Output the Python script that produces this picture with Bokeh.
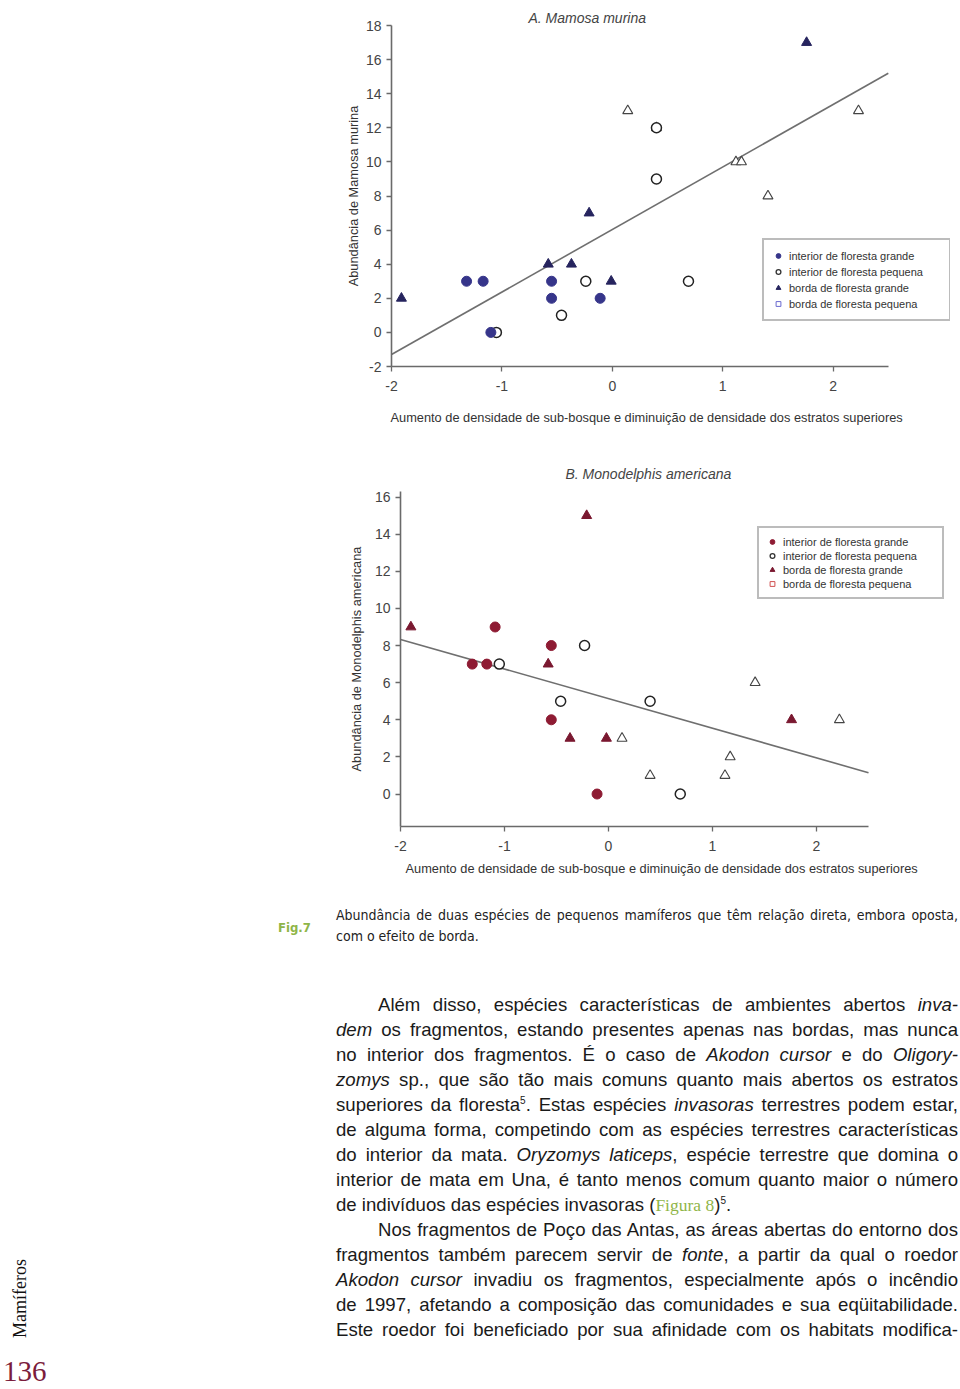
import math
from bokeh.plotting import figure
from bokeh.models import Legend, LegendItem, Div, Range1d, FixedTicker, ColumnDataSource, Title
from bokeh.layouts import column, row
from bokeh.embed import file_html
from bokeh.resources import INLINE

NAN = float("nan")

# ---------------- data: panel A (Mamosa murina) ----------------
a_int_grande_x = [-1.32, -1.17, -1.10, -0.55, -0.55, -0.11]
a_int_grande_y = [3, 3, 0, 3, 2, 2]
a_int_peq_x = [-1.05, -0.46, -0.24, 0.40, 0.40, 0.69]
a_int_peq_y = [0, 1, 3, 12, 9, 3]
a_borda_grande_x = [-1.91, -0.58, -0.37, -0.21, -0.01, 1.76]
a_borda_grande_y = [2, 4, 4, 7, 3, 17]
a_borda_peq_x = [0.14, 0.40, 1.12, 1.17, 1.41, 2.23]
a_borda_peq_y = [13, 12, 10, 10, 8, 13]
a_trend_x = [-2.0, 2.5]
a_trend_y = [-1.3, 15.2]
a_yticks = [-2, 0, 2, 4, 6, 8, 10, 12, 14, 16, 18]

# ---------------- data: panel B (Monodelphis americana) ----------------
b_int_grande_x = [-1.31, -1.17, -1.09, -0.55, -0.55, -0.11]
b_int_grande_y = [7, 7, 9, 8, 4, 0]
b_int_peq_x = [-1.05, -0.46, -0.23, 0.40, 0.69]
b_int_peq_y = [7, 5, 8, 5, 0]
b_borda_grande_x = [-1.90, -0.58, -0.37, -0.21, -0.02, 1.76]
b_borda_grande_y = [9, 7, 3, 15, 3, 4]
b_borda_peq_x = [0.13, 0.40, 1.12, 1.17, 1.41, 2.22]
b_borda_peq_y = [3, 1, 1, 2, 6, 4]
b_trend_x = [-2.0, 2.5]
b_trend_y = [8.33, 1.15]
b_yticks = [0, 2, 4, 6, 8, 10, 12, 14, 16]

x_ticks = [-2, -1, 0, 1, 2]
x_tick_labels = ["-2", "-1", "0", "1", "2"]

legend_labels = ["interior de floresta grande", "interior de floresta pequena",
                 "borda de floresta grande", "borda de floresta pequena"]
x_label = "Aumento de densidade de sub-bosque e diminuição de densidade dos estratos superiores"

FONT = "Liberation Sans"


def style_axes(p, yticks, ylabel, ystand):
    p.xaxis.ticker = FixedTicker(ticks=x_ticks)
    p.xaxis.major_label_overrides = {t: l for t, l in zip(x_ticks, x_tick_labels)}
    p.xaxis.bounds = (x_ticks[0], 2.5)
    p.yaxis.ticker = FixedTicker(ticks=yticks)
    p.yaxis.major_label_overrides = {t: str(t) for t in yticks}
    p.yaxis.axis_label = ylabel
    for ax in (p.xaxis[0], p.yaxis[0]):
        ax.axis_line_color = "#6a6a6a"
        ax.axis_line_width = 1.6
        ax.major_tick_line_color = "#6a6a6a"
        ax.major_tick_line_width = 1.3
        ax.major_tick_out = 5
        ax.major_tick_in = 0
        ax.minor_tick_line_color = None
        ax.major_label_text_font = FONT
        ax.major_label_text_font_size = "14px"
        ax.major_label_text_color = "#444444"
        ax.axis_label_text_font = FONT
        ax.axis_label_text_font_size = "12.8px"
        ax.axis_label_text_font_style = "normal"
        ax.axis_label_text_color = "#333333"
    p.xaxis.major_label_standoff = 9
    p.yaxis.axis_label_standoff = ystand
    p.xgrid.grid_line_color = None
    p.ygrid.grid_line_color = None
    p.outline_line_color = None


def panel(title, title_offset, title_standoff, ylabel, ystand, yrange, yticks, borders, px_per_unit,
          xlab_offset, xlab_standoff, data, colors, trend, legend_pos, legend_dims, sq_color, fig_width):
    top, bottom, left, right = borders
    frame_w = fig_width - left - right
    x_end = -2 + frame_w / px_per_unit
    p = figure(width=fig_width, height=440, output_backend="svg", toolbar_location=None,
               x_range=Range1d(-2, x_end), y_range=Range1d(*yrange),
               min_border_top=top, min_border_bottom=bottom,
               min_border_left=left, min_border_right=right,
               background_fill_color="white", border_fill_color="white")
    p.title.text = title
    p.title.align = "left"
    p.title.offset = title_offset
    p.title.standoff = title_standoff
    p.title.text_font = FONT
    p.title.text_font_size = "14px"
    p.title.text_font_style = "italic"
    p.title.text_color = "#444444"
    style_axes(p, yticks, ylabel, ystand)
    xl = Title(text=x_label, align="left", offset=xlab_offset, standoff=xlab_standoff,
               text_font=FONT, text_font_size="12.8px", text_font_style="normal",
               text_color="#333333")
    p.add_layout(xl, "below")

    (igx, igy), (ipx, ipy), (bgx, bgy), (bpx, bpy) = data
    fill_c, tri_c = colors
    p.line(trend[0], trend[1], line_color="#6f6f6f", line_width=1.6)
    p.scatter(bpx, bpy, marker="triangle", size=10, fill_color="white",
              line_color="#444444", line_width=1.1)
    p.scatter(ipx, ipy, marker="circle", size=10, fill_color="white",
              line_color="#222222", line_width=1.5)
    p.scatter(igx, igy, marker="circle", size=10, fill_color=fill_c,
              line_color=fill_c, line_width=1)
    p.scatter(bgx, bgy, marker="triangle", size=10, fill_color=tri_c,
              line_color=tri_c, line_width=1)

    # legend proxies (no visible data)
    src = ColumnDataSource(dict(x=[NAN], y=[NAN]))
    r1 = p.scatter("x", "y", source=src, marker="circle", size=8, fill_color=fill_c, line_color=fill_c)
    r2 = p.scatter("x", "y", source=src, marker="circle", size=7, fill_color="white", line_color="#333333", line_width=1.3)
    r3 = p.scatter("x", "y", source=src, marker="triangle", size=8, fill_color=tri_c, line_color=tri_c)
    r4 = p.scatter("x", "y", source=src, marker="square", size=5, fill_color="white",
                   line_color=sq_color, line_width=1)
    items = [LegendItem(label=l, renderers=[r]) for l, r in zip(legend_labels, [r1, r2, r3, r4])]
    pad, lh, lw = legend_dims
    leg = Legend(items=items, location=legend_pos, padding=pad, spacing=1, margin=0,
                 label_height=lh, glyph_height=lh, glyph_width=12, label_standoff=5,
                 label_width=lw,
                 label_text_font=FONT, label_text_font_size="11px", label_text_color="#333333",
                 border_line_color="#7a7a7a", border_line_width=2,
                 background_fill_color="white", background_fill_alpha=1)
    p.add_layout(leg)
    return p


pa = panel("A. Mamosa murina", 137, 0, "Abundância de Mamosa murina", 2, (-2, 18), a_yticks,
           (25, 74, 391, 10), 110.4, -1, 28,
           [(a_int_grande_x, a_int_grande_y), (a_int_peq_x, a_int_peq_y),
            (a_borda_grande_x, a_borda_grande_y), (a_borda_peq_x, a_borda_peq_y)],
           ("#36358a", "#26245e"), (a_trend_x, a_trend_y), (371, 45), (8, 15, 152), "#6a6ad0", 960)

pb = panel("B. Monodelphis americana", 165, 19, "Abundância de Monodelphis americana", 8, (-1.75, 16.3),
           b_yticks, (51, 54, 400, 10), 104.0, 5, 10,
           [(b_int_grande_x, b_int_grande_y), (b_int_peq_x, b_int_peq_y),
            (b_borda_grande_x, b_borda_grande_y), (b_borda_peq_x, b_borda_peq_y)],
           ("#8e1b33", "#7a1830"), (b_trend_x, b_trend_y), (357, 227), (7, 13, 152), "#d05050", 960)

# ---------------- text block ----------------
SUP = "<sup style='font-size:10px;line-height:0;vertical-align:7px'>5</sup>"
body_lines = [
    ("Além disso, espécies características de ambientes abertos <i>inva-</i>", True, True),
    ("<i>dem</i> os fragmentos, estando presentes apenas nas bordas, mas nunca", False, True),
    ("no interior dos fragmentos. É o caso de <i>Akodon cursor</i> e do <i>Oligory-</i>", False, True),
    ("<i>zomys</i> sp., que são tão mais comuns quanto mais abertos os estratos", False, True),
    ("superiores da floresta" + SUP + ". Estas espécies <i>invasoras</i> terrestres podem estar,", False, True),
    ("de alguma forma, competindo com as espécies terrestres características", False, True),
    ("do interior da mata. <i>Oryzomys laticeps</i>, espécie terrestre que domina o", False, True),
    ("interior de mata em Una, é tanto menos comum quanto maior o número", False, True),
    ("de indivíduos das espécies invasoras (<span style=\"font-family:'Liberation Serif';color:#8fb548;font-size:17.5px\">Figura 8</span>)" + SUP + ".", False, False),
    ("Nos fragmentos de Poço das Antas, as áreas abertas do entorno dos", True, True),
    ("fragmentos também parecem servir de <i>fonte</i>, a partir da qual o roedor", False, True),
    ("<i>Akodon cursor</i> invadiu os fragmentos, especialmente após o incêndio", False, True),
    ("de 1997, afetando a composição das comunidades e sua eqüitabilidade.", False, True),
    ("Este roedor foi beneficiado por sua afinidade com os habitats modifica-", False, True),
]

parts = []
parts.append("<div style=\"position:absolute;left:278px;top:38px;font-family:'DejaVu Sans Condensed','DejaVu Sans';"
             "font-size:13px;font-weight:bold;color:#8fb548;line-height:20px;\">Fig.7</div>")
cap_style = ("position:absolute;left:336px;width:622px;font-family:'DejaVu Sans Condensed','DejaVu Sans';"
             "font-size:14px;color:#222;line-height:20px;white-space:nowrap;")
parts.append(f"<div style=\"{cap_style}top:25px;text-align:justify;text-align-last:justify;\">"
             "Abundância de duas espécies de pequenos mamíferos que têm relação direta, embora oposta,</div>")
parts.append(f"<div style=\"{cap_style}top:46px;\">com o efeito de borda.</div>")

for i, (txt, indent, just) in enumerate(body_lines):
    top = 112 + 25 * i
    left = 378 if indent else 336
    width = 958 - left
    align = "text-align:justify;text-align-last:justify;" if just else "text-align:left;"
    parts.append(f"<div style=\"position:absolute;left:{left}px;top:{top}px;width:{width}px;height:25px;"
                 f"line-height:25px;font-family:'Liberation Sans';font-size:18.6px;color:#1a1a1a;"
                 f"white-space:nowrap;{align}\">{txt}</div>")

parts.append("<div style=\"position:absolute;left:9px;top:376px;height:82px;writing-mode:vertical-rl;"
             "transform:rotate(180deg);font-family:'Liberation Serif';font-size:18px;color:#111;"
             "line-height:22px;\">Mamíferos</div>")
parts.append("<div style=\"position:absolute;left:3px;top:474px;font-family:'Liberation Serif';"
             "font-size:29px;color:#7b1c3c;line-height:34px;\">136</div>")

html = "<div style=\"position:relative;width:960px;height:505px;\">" + "".join(parts) + "</div>"
txt = Div(text=html, width=960, height=505, margin=0)

layout = column(row(pa), row(pb), txt, spacing=0)
open("out.html", "w").write(file_html(layout, INLINE))
